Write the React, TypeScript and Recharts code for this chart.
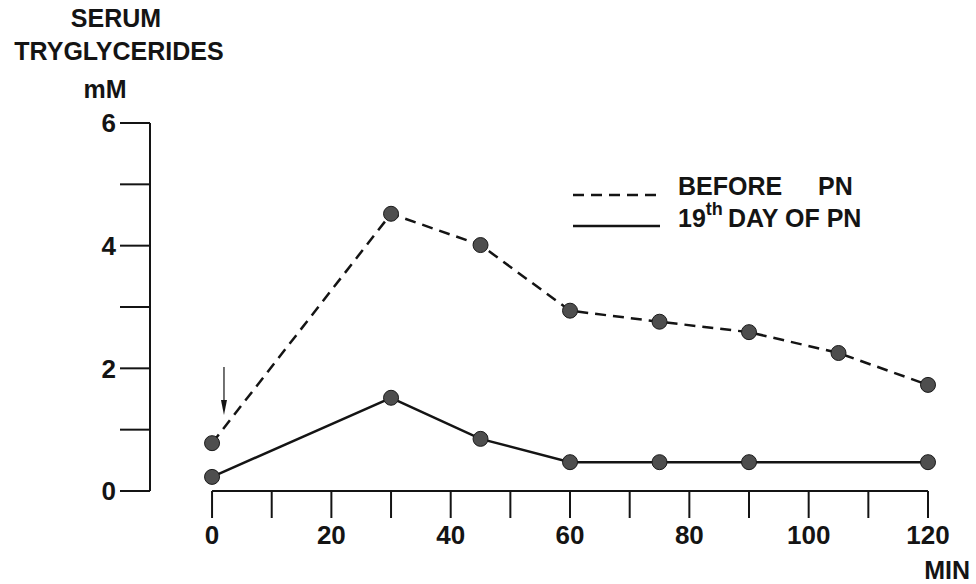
import {
  ComposedChart,
  Line,
  XAxis,
  YAxis,
  ReferenceLine,
  ReferenceDot,
  Customized,
} from 'recharts'

// serum triglycerides (mM) after the fat load, minutes
const minutes = [0, 30, 45, 60, 75, 90, 105, 120]
const beforePn = [0.78, 4.52, 4.01, 2.94, 2.76, 2.59, 2.25, 1.73]
const day19Pn: (number | null)[] = [0.23, 1.52, 0.85, 0.47, 0.47, 0.47, null, 0.47]

const xTicks = [0, 10, 20, 30, 40, 50, 60, 70, 80, 90, 100, 110, 120]
const xLabels = [0, 20, 40, 60, 80, 100, 120]
const yTicks = [0, 1, 2, 3, 4, 5, 6]
const yLabels = [0, 2, 4, 6]

const data = minutes.map((m, i) => ({ min: m, before: beforePn[i], day19: day19Pn[i] }))

const INK = '#141414'
const FONT = '"Liberation Sans", Arial, Helvetica, sans-serif'

const tickStyle = { fill: INK, fontSize: 26, fontWeight: 700, fontFamily: FONT }

const dotStyle = { r: 7.5, fill: '#4e4e4e', stroke: '#1a1a1a', strokeWidth: 1, strokeDasharray: '0' }

function Titles() {
  const t = { fill: INK, fontSize: 25, fontWeight: 700, fontFamily: FONT, textAnchor: 'middle' as const }
  return (
    <g>
      <text x={116} y={27} {...t}>SERUM</text>
      <text x={119} y={60} {...t}>TRYGLYCERIDES</text>
      <text x={105} y={98} {...t}>mM</text>
      <text x={970} y={579} {...t} textAnchor="end">MIN</text>
    </g>
  )
}

// key drawn inside the plot, top right
function Key() {
  const t = { fill: INK, fontSize: 25, fontWeight: 700, fontFamily: FONT }
  return (
    <g transform="translate(560,165)">
      <line x1={13} y1={30} x2={100} y2={30} stroke={INK} strokeWidth={2.5} strokeDasharray="11 7" />
      <text x={118} y={30} {...t}>
        BEFORE<tspan x={258}>PN</tspan>
      </text>
      <line x1={13} y1={61} x2={100} y2={61} stroke={INK} strokeWidth={2.5} />
      <text x={118} y={62} {...t}>
        19
        <tspan fontSize={18} dy={-12}>th</tspan>
        <tspan x={168} dy={12}>DAY OF PN</tspan>
      </text>
    </g>
  )
}

function ArrowHead(props: { cx?: number; cy?: number }) {
  const { cx = 0, cy = 0 } = props
  return <path d={`M${cx - 3},${cy - 15} L${cx + 3},${cy - 15} L${cx},${cy} Z`} fill={INK} />
}

export default function App() {
  return (
    <div style={{ position: 'absolute', left: 0, top: 0, width: 976, height: 584, background: '#fff' }}>
      <ComposedChart width={976} height={584} data={data} margin={{ top: 123, right: 48, bottom: 0, left: 0 }}>
        <XAxis
          dataKey="min"
          type="number"
          domain={[-10.4, 120]}
          ticks={xTicks}
          interval={0}
          height={93}
          axisLine={false}
          tickSize={27}
          tickMargin={8}
          tickLine={{ stroke: INK, strokeWidth: 2 }}
          tick={tickStyle}
          tickFormatter={(v: number) => (xLabels.includes(v) ? String(v) : '')}
        />
        <YAxis
          type="number"
          domain={[0, 6]}
          ticks={yTicks}
          interval={0}
          width={150}
          tickSize={30}
          tickMargin={4}
          axisLine={{ stroke: INK, strokeWidth: 2 }}
          tickLine={{ stroke: INK, strokeWidth: 2 }}
          tick={tickStyle}
          tickFormatter={(v: number) => (yLabels.includes(v) ? String(v) : '')}
        />
        {/* x axis line starts at 0 min, detached from the y axis */}
        <ReferenceLine
          segment={[{ x: 0, y: 0 }, { x: 120, y: 0 }]}
          stroke={INK}
          strokeWidth={2}
          ifOverflow="visible"
        />
        {/* fat load given at time 0 */}
        <ReferenceLine
          segment={[{ x: 2, y: 2.02 }, { x: 2, y: 1.4 }]}
          stroke={INK}
          strokeWidth={1.2}
          ifOverflow="visible"
        />
        <ReferenceDot x={2} y={1.24} ifOverflow="visible" shape={<ArrowHead />} />
        <Line
          dataKey="before"
          name="BEFORE PN"
          type="linear"
          stroke={INK}
          strokeWidth={2.5}
          strokeDasharray="11 7"
          dot={dotStyle}
          activeDot={false}
          isAnimationActive={false}
        />
        <Line
          dataKey="day19"
          name="19th DAY OF PN"
          type="linear"
          stroke={INK}
          strokeWidth={2.5}
          connectNulls
          dot={dotStyle}
          activeDot={false}
          isAnimationActive={false}
        />
        <Customized component={<Key />} />
        <Customized component={<Titles />} />
      </ComposedChart>
    </div>
  )
}
